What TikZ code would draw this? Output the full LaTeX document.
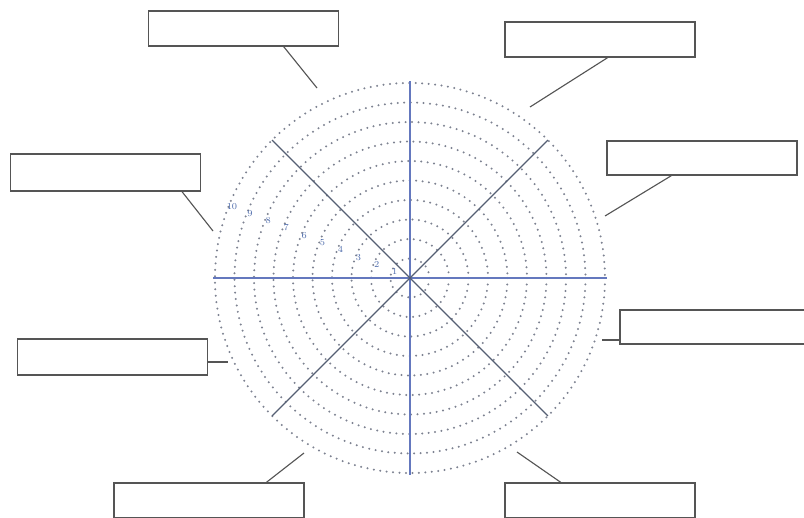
\documentclass[tikz,border=0pt]{standalone}
\usepackage{tikz}
\usetikzlibrary{calc}
\definecolor{spoke}{RGB}{100,120,190}
\definecolor{diag}{RGB}{85,95,115}
\definecolor{ringc}{RGB}{125,130,145}
\definecolor{boxline}{RGB}{85,85,85}
\definecolor{num}{RGB}{75,105,170}

\begin{document}
\begin{tikzpicture}[
  x=0.25mm,y=-0.25mm,
  box/.style={draw=boxline,line width=0.9pt,minimum width=47.5mm,minimum height=8.75mm,inner sep=0pt},
  ringline/.style={ringc,line width=1.6pt,line cap=round,dash pattern=on 0pt off 4.6pt},
  axis/.style={spoke,line width=0.9pt},
  slant/.style={diag,line width=0.9pt},
  lead/.style={boxline,line width=0.8pt},
  numlab/.style={text=num,font=\fontsize{6.5}{6.5}\selectfont,inner sep=0pt},
]
\clip (0,0) rectangle (804,517);
\coordinate (c) at (410,278);

% rings
\foreach \k in {1,...,10}
  \draw[ringline] (c) circle[radius=19.5*\k];

% spokes
\draw[axis] ($(c)+(0,-197)$) -- ($(c)+(0,197)$);
\draw[axis] ($(c)+(-197,0)$) -- ($(c)+(197,0)$);
\draw[slant] ($(c)+(135:195)$) -- ($(c)+(-45:195)$);
\draw[slant] ($(c)+(45:195)$) -- ($(c)+(-135:195)$);

% ring numbers
\foreach \k in {1,...,10}
  \node[numlab] (n\k) at ($(c)+(-158:19.5*\k-3)$) {\k};

% boxes
\node[box] (b1) at (243.5,28.5) {};
\node[box] (b2) at (600,39.5) {};
\node[box,minimum height=9.25mm] (b3) at (105.5,172.5) {};
\node[box,minimum height=8.5mm] (b4) at (702,158) {};
\node[box,minimum height=9mm] (b5) at (112.5,357) {};
\node[box,minimum height=8.5mm,minimum width=55mm] (b6) at (730,327) {};
\node[box] (b7) at (209,500.5) {};
\node[box] (b8) at (600,500.5) {};

% leader ends
\coordinate (e1) at (317,88);
\coordinate (e2) at (530,107);
\coordinate (e3) at (213,231);
\coordinate (e4) at (605,216);
\coordinate (e5) at (228,362);
\coordinate (e6) at (602,340);
\coordinate (e7) at (304,453);
\coordinate (e8) at (517,452);

\draw[lead] ($(b1.south west)!0.71!(b1.south east)$) -- (e1);
\draw[lead] ($(b2.south west)!0.54!(b2.south east)$) -- (e2);
\draw[lead] ($(b3.south west)!0.90!(b3.south east)$) -- (e3);
\draw[lead] ($(b4.south west)!0.34!(b4.south east)$) -- (e4);
\draw[lead] ($(b5.east)+(0,5)$) -- (e5);
\draw[lead] ($(b6.west)+(0,13)$) -- (e6);
\draw[lead] ($(b7.north west)!0.80!(b7.north east)$) -- (e7);
\draw[lead] ($(b8.north west)!0.295!(b8.north east)$) -- (e8);
\end{tikzpicture}
\end{document}
